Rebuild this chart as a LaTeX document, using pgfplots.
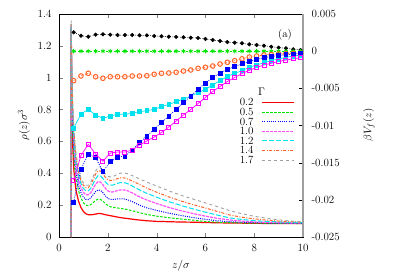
\documentclass[border=0pt]{standalone}
\usepackage{pgfplots}
\pgfplotsset{compat=1.18}
\usepackage{pgfplotstable}
\definecolor{cRed}{RGB}{255,0,0}
\definecolor{cGreen}{RGB}{0,230,0}
\definecolor{cBlue}{RGB}{0,0,255}
\definecolor{cMag}{RGB}{255,0,255}
\definecolor{cMagL}{RGB}{255,80,255}
\definecolor{cCyan}{RGB}{0,225,240}
\definecolor{cOrange}{RGB}{255,100,40}
\definecolor{cGrey}{RGB}{160,160,160}

\pgfplotstableread{
z     r02   r05   r07   r10   r12   r14   r17
0.5   0     0     0     0     0     0     0
0.5   1.30  1.31  1.32  1.33  1.34  1.35  1.36
0.52  0.95  1.00  1.02  1.05  1.08  1.10  1.12
0.55  0.62  0.70  0.75  0.80  0.84  0.87  0.90
0.6   0.44  0.52  0.57  0.62  0.66  0.69  0.72
0.65  0.35  0.42  0.47  0.51  0.55  0.58  0.60
0.7   0.29  0.36  0.40  0.44  0.47  0.50  0.52
0.8   0.225 0.29  0.325 0.36  0.385 0.41  0.43
0.9   0.185 0.245 0.28  0.31  0.335 0.355 0.372
1.0   0.16  0.215 0.25  0.28  0.305 0.325 0.34
1.1   0.146 0.20  0.236 0.265 0.29  0.31  0.325
1.2   0.140 0.197 0.235 0.265 0.29  0.31  0.325
1.3   0.139 0.203 0.245 0.278 0.305 0.328 0.345
1.4   0.141 0.215 0.265 0.305 0.335 0.36  0.38
1.5   0.144 0.23  0.285 0.332 0.365 0.395 0.415
1.6   0.147 0.238 0.295 0.347 0.385 0.415 0.435
1.7   0.147 0.236 0.293 0.345 0.384 0.414 0.434
1.8   0.144 0.225 0.278 0.328 0.366 0.396 0.416
1.9   0.140 0.21  0.258 0.306 0.345 0.375 0.396
2.0   0.137 0.198 0.243 0.29  0.331 0.36  0.382
2.1   0.134 0.19  0.236 0.283 0.325 0.355 0.377
2.2   0.131 0.186 0.235 0.283 0.326 0.356 0.379
2.3   0.128 0.184 0.237 0.287 0.331 0.361 0.386
2.4   0.125 0.182 0.239 0.292 0.337 0.367 0.394
2.5   0.122 0.18  0.24  0.295 0.341 0.371 0.40
2.6   0.120 0.178 0.24  0.296 0.342 0.372 0.402
2.7   0.118 0.175 0.238 0.295 0.34  0.37  0.401
2.8   0.116 0.172 0.234 0.291 0.336 0.365 0.397
3.0   0.112 0.165 0.222 0.277 0.32  0.352 0.386
3.2   0.108 0.157 0.207 0.26  0.303 0.337 0.372
3.4   0.105 0.149 0.194 0.245 0.288 0.322 0.358
3.6   0.102 0.142 0.183 0.232 0.274 0.307 0.345
3.8   0.100 0.136 0.175 0.221 0.262 0.294 0.332
4.0   0.098 0.131 0.167 0.21  0.25  0.281 0.32
4.5   0.096 0.121 0.15  0.186 0.222 0.252 0.29
5.0   0.094 0.113 0.135 0.165 0.198 0.226 0.262
5.5   0.093 0.106 0.122 0.147 0.176 0.203 0.238
6.0   0.091 0.097 0.111 0.131 0.156 0.182 0.214
6.5   0.089 0.093 0.102 0.117 0.137 0.16  0.19
7.0   0.088 0.09  0.096 0.107 0.12  0.138 0.165
7.5   0.087 0.088 0.093 0.10  0.11  0.124 0.146
8.0   0.086 0.087 0.09  0.095 0.103 0.114 0.13
8.5   0.085 0.086 0.088 0.092 0.098 0.106 0.118
9.0   0.085 0.085 0.087 0.09  0.095 0.10  0.108
9.5   0.084 0.085 0.086 0.088 0.092 0.096 0.10
10.0  0.084 0.084 0.085 0.087 0.09  0.093 0.095
}\dens

\pgfplotstableread{
z   black    green orange   cyan     blue     mag
0.6 0.00254  0 -0.00397 -0.01038 -0.02029 -0.01733
0.9 0.00208  0 -0.00334 -0.00845 -0.01589 -0.01404
1.2 0.00195  0 -0.00298 -0.00782 -0.01384 -0.01252
1.5 0.00222  0 -0.00344 -0.00859 -0.01428 -0.01384
1.8 0.00227  0 -0.00365 -0.00903 -0.01622 -0.01480
2.1 0.00222  0 -0.00344 -0.00872 -0.01487 -0.01370
2.4 0.00217  0 -0.00344 -0.00849 -0.01428 -0.01357
2.7 0.00217  0 -0.00344 -0.00849 -0.01410 -0.01357
3.0 0.00217  0 -0.00334 -0.00836 -0.01330 -0.01330
3.3 0.00213  0 -0.00334 -0.00814 -0.01231 -0.01262
3.6 0.00213  0 -0.00330 -0.00801 -0.01141 -0.01209
3.9 0.00204  0 -0.00311 -0.00782 -0.01051 -0.01155
4.2 0.00200  0 -0.00298 -0.00747 -0.00962 -0.01094
4.5 0.00195  0 -0.00294 -0.00715 -0.00872 -0.01020
4.8 0.00191  0 -0.00284 -0.00680 -0.00782 -0.00940
5.1 0.00187  0 -0.00267 -0.00644 -0.00693 -0.00859
5.4 0.00181  0 -0.00253 -0.00603 -0.00603 -0.00785
5.7 0.00177  0 -0.00231 -0.00559 -0.00513 -0.00704
6.0 0.00164  0 -0.00217 -0.00513 -0.00428 -0.00623
6.3 0.00150  0 -0.00200 -0.00455 -0.00354 -0.00543
6.6 0.00137  0 -0.00173 -0.00397 -0.00294 -0.00475
6.9 0.00123  0 -0.00150 -0.00341 -0.00247 -0.00408
7.2 0.00114  0 -0.00128 -0.00298 -0.00206 -0.00354
7.5 0.00106  0 -0.00103 -0.00263 -0.00169 -0.00301
7.8 0.00092  0 -0.00079 -0.00217 -0.00136 -0.00258
8.1 0.00083  0 -0.00065 -0.00186 -0.00110 -0.00220
8.4 0.00074  0 -0.00052 -0.00155 -0.00088 -0.00186
8.7 0.00060  0 -0.00045 -0.00128 -0.00072 -0.00163
9.0 0.00047  0 -0.00038 -0.00105 -0.00058 -0.00139
9.3 0.00039  0 -0.00034 -0.00083 -0.00048 -0.00119
9.6 0.00025  0 -0.00031 -0.00065 -0.00038 -0.00103
9.9 0.00016  0 -0.00029 -0.00052 -0.00031 -0.00088
}\pot

\begin{document}
\begin{tikzpicture}[font=\fontsize{11}{13}\selectfont]
\path[use as bounding box] (0,0) rectangle (395pt,276pt);
\begin{axis}[
  at={(59pt,39pt)}, anchor=south west, scale only axis,
  width=244pt, height=223pt,
  xmin=0, xmax=10, ymin=0, ymax=1.4,
  xtick={0,2,4,6,8,10}, xticklabels={0,2,4,6,8,10},
  ytick={0,0.2,0.4,0.6,0.8,1,1.2,1.4},
  yticklabels={0,0.2,0.4,0.6,0.8,1,1.2,1.4},
  tick align=inside, ytick pos=left, xtick pos=both,
  major tick length=4pt,
  xticklabel style={yshift=-4pt},
  yticklabel style={xshift=-4pt},
  axis line style={line width=0.6pt},
  legend image code/.code={\draw[#1] (0pt,0pt) -- (32pt,0pt);},
  legend plot pos=right,
  legend cell align=right,
  legend style={draw=none, fill=none, inner sep=0pt,
    at={(0.74,0.62)}, anchor=north west,
    row sep=2.6pt, column sep=8pt,
    nodes={inner sep=0pt, text height=7pt, text depth=0pt}},
]
\addplot[cRed, line width=1.2pt, no marks] table[x=z,y=r02] {\dens};
\addlegendentry{0.2}
\addplot[cGreen, line width=1pt, dash pattern=on 2.5pt off 1.5pt, no marks] table[x=z,y=r05] {\dens};
\addlegendentry{0.5}
\addplot[cBlue, line width=1pt, dash pattern=on 1pt off 1.2pt, no marks] table[x=z,y=r07] {\dens};
\addlegendentry{0.7}
\addplot[cMagL, line width=1.2pt, dash pattern=on 3pt off 1pt, no marks] table[x=z,y=r10] {\dens};
\addlegendentry{1.0}
\addplot[cCyan, line width=1pt, dash pattern=on 5pt off 2pt, no marks] table[x=z,y=r12] {\dens};
\addlegendentry{1.2}
\addplot[cOrange, line width=1pt, dash pattern=on 3pt off 1.5pt on 1pt off 1.5pt, no marks] table[x=z,y=r14] {\dens};
\addlegendentry{1.4}
\addplot[cGrey, line width=0.9pt, dash pattern=on 3pt off 3pt, no marks] table[x=z,y=r17] {\dens};
\addlegendentry{1.7}
\node at (rel axis cs:0.83,0.652) {$\Gamma$};
\node at (rel axis cs:0.926,0.906) {(a)};
\end{axis}
\begin{axis}[
  at={(59pt,39pt)}, anchor=south west, scale only axis,
  width=244pt, height=223pt,
  xmin=0, xmax=10, ymin=-0.025, ymax=0.005,
  axis x line=none, axis y line*=right,
  y axis line style={gray!75, line width=1.6pt},
  ytick={-0.025,-0.02,-0.015,-0.01,-0.005,0,0.005},
  yticklabels={-0.025,-0.02,-0.015,-0.01,-0.005,0,0.005},
  scaled y ticks=false,
  tick align=inside, major tick length=4pt,
  ytick style={black},
  yticklabel style={xshift=5pt},
]
\addplot[black, line width=0.5pt, dash pattern=on 1pt off 1.5pt, mark=*, mark size=1.8pt, mark options={solid}] table[x=z,y=black] {\pot};
\addplot[cGreen, line width=0.8pt, dash pattern=on 2.5pt off 1.5pt, mark=asterisk, mark size=2.2pt, mark options={solid, line width=0.8pt}] table[x=z,y=green] {\pot};
\addplot[cOrange, line width=0.6pt, dash pattern=on 1pt off 1.2pt, mark=o, mark size=2.3pt, mark options={solid, line width=1pt}] table[x=z,y=orange] {\pot};
\addplot[cCyan, line width=0.7pt, mark=square*, mark size=1.9pt, mark options={solid}] table[x=z,y=cyan] {\pot};
\addplot[cBlue, line width=0.7pt, dash pattern=on 1pt off 1.2pt, mark=square*, mark size=1.9pt, mark options={solid}] table[x=z,y=blue] {\pot};
\addplot[cMag, line width=0.7pt, mark=square, mark size=2pt, mark options={solid, line width=0.9pt}] table[x=z,y=mag] {\pot};
\end{axis}
\node[rotate=90] at (24pt,151pt) {$\rho(z)\sigma^3$};
\node[rotate=90] at (369pt,151pt) {$\beta V_f(z)$};
\node at (181pt,10pt) {$z/\sigma$};
\end{tikzpicture}
\end{document}
